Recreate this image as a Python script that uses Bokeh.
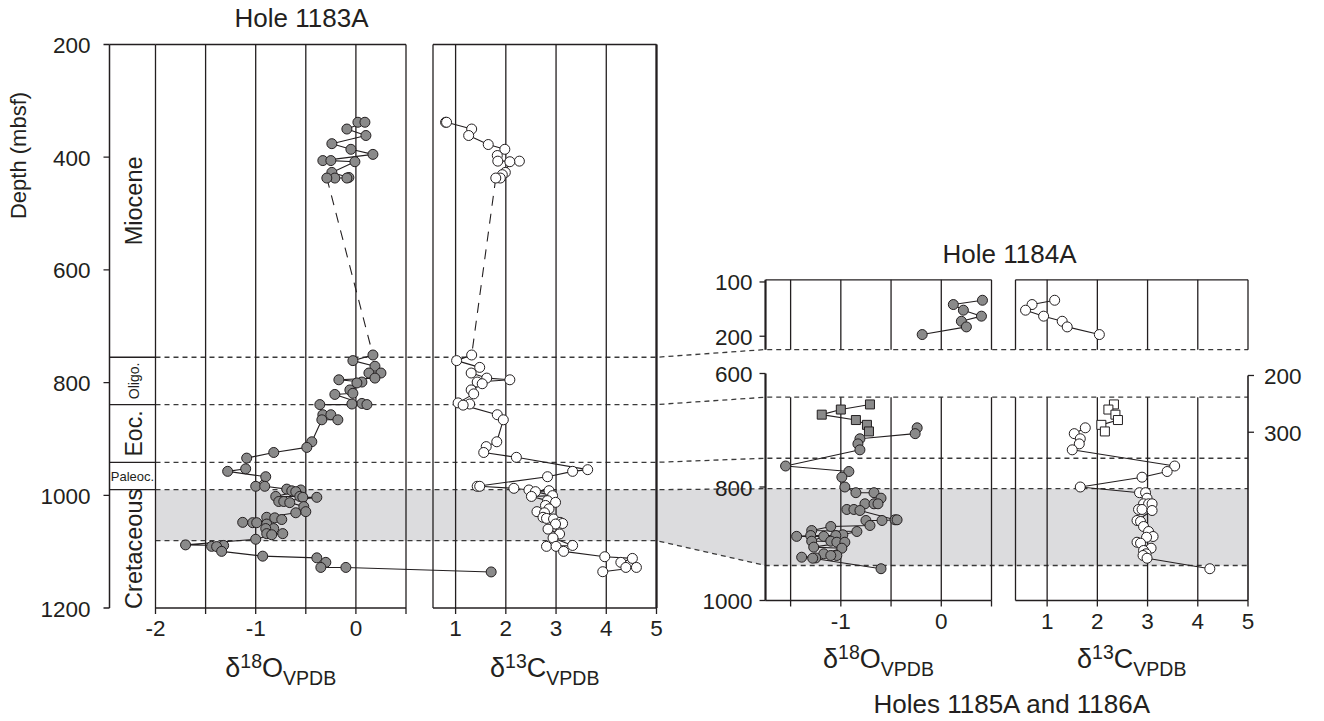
import numpy as np
from bokeh.plotting import figure
from bokeh.models import Range1d
from bokeh.core.properties import value
from bokeh.embed import file_html
from bokeh.resources import INLINE

# ------------------------------------------------------------------ data
# Hole 1183A  d18O (Miocene cluster, then Oligocene - Cretaceous)
D18O_1183_MIO_DEPTH = [338, 338, 350, 361.5, 376, 386, 395, 406, 406, 408, 427, 436, 437, 437, 437]
D18O_1183_MIO = [0.02, 0.09, -0.09, 0.10, -0.24, -0.05, 0.17, -0.33, -0.25, -0.01, -0.24, -0.07, -0.09, -0.21, -0.29]
D18O_1183_DEPTH = [751, 761, 771, 783, 783, 792, 795, 799, 800.6, 813, 819, 821, 837, 838, 839, 839,
                   857, 857, 866, 866, 905, 915, 924, 934, 953, 957.5, 967, 984, 984, 989, 990.5, 992,
                   993.5, 1002, 1002, 1003.6, 1003.6, 1011, 1011, 1013, 1020, 1029, 1031, 1039, 1040,
                   1043, 1048, 1048.6, 1048.6, 1051, 1059, 1059, 1068, 1068, 1070, 1078, 1088, 1089,
                   1090.6, 1091, 1099.5, 1108, 1111, 1119, 1128, 1128, 1136]
D18O_1183 = [0.17, -0.03, 0.19, 0.13, 0.25, 0.19, -0.17, 0.06, 0.01, -0.06, -0.03, -0.21, 0.06, -0.04, 0.11, -0.36,
             -0.33, -0.25, -0.18, -0.34, -0.44, -0.49, -0.82, -1.09, -1.10, -1.28, -0.90, -1.00, -0.91, -0.69, -0.55, -0.64,
             -0.60, -0.80, -0.56, -0.53, -0.39, -0.77, -0.72, -0.66, -0.52, -0.50, -0.60, -0.89, -0.81,
             -0.74, -1.13, -1.03, -0.99, -0.89, -0.82, -0.90, -0.89, -0.73, -0.84, -1.00, -1.70, -1.32,
             -1.44, -1.39, -1.34, -0.93, -0.39, -0.30, -0.35, -0.10, 1.35]

# Hole 1183A  d13C
D13C_1183_MIO_DEPTH = [338, 338, 350, 361.5, 377.5, 386, 397, 407, 407, 408, 427, 431, 437, 437]
D13C_1183_MIO = [0.80, 0.82, 1.32, 1.26, 1.65, 1.98, 1.83, 1.84, 2.27, 2.08, 1.99, 1.93, 1.89, 1.80]
D13C_1183_DEPTH = [751, 761, 773, 783, 792, 795, 799, 802, 813, 820, 836, 838, 840, 857, 866, 905, 913.6,
                   924, 932.6, 954.5, 957.5, 967, 984, 984, 987.6, 990.5, 991.8, 993.5, 1000.6, 1002,
                   1009.5, 1012.5, 1018, 1024, 1029, 1031, 1039, 1041, 1042, 1048, 1050, 1051, 1060,
                   1068.6, 1075.7, 1089, 1090.6, 1090.6, 1099.5, 1109, 1112, 1119, 1128, 1128, 1135.6]
D13C_1183 = [1.32, 1.02, 1.48, 1.31, 1.62, 2.08, 1.43, 1.53, 1.31, 1.36, 1.05, 1.28, 1.15, 1.83, 1.95, 1.82, 1.61,
             1.56, 2.21, 3.63, 3.33, 2.83, 1.43, 1.48, 2.16, 2.46, 2.86, 2.59, 2.93, 2.51,
             2.83, 2.99, 2.79, 2.86, 2.62, 2.77, 2.74, 2.81, 2.95, 3.08, 3.13, 2.99, 2.84,
             3.07, 2.94, 3.33, 2.81, 3.00, 3.15, 3.97, 4.52, 4.29, 4.39, 4.60, 3.93]

# Hole 1184A
DEPTH_1184 = [133.7, 141.6, 152, 163, 172.4, 182.8, 196.9]
D18O_1184 = [0.41, 0.12, 0.22, 0.40, 0.20, 0.25, -0.19]
D13C_1184 = [1.15, 0.70, 0.57, 0.93, 1.30, 1.40, 2.04]

# Hole 1185A (squares, right-hand depth axis)
DEPTH_1185 = [251, 260, 269, 278.5, 287, 298.6]
D18O_1185 = [-0.71, -1.00, -1.19, -0.85, -0.74, -0.72]
D13C_1185 = [2.33, 2.22, 2.36, 2.41, 2.08, 2.15]

# Hole 1186A (circles, left-hand depth axis)
D18O_1186_DEPTH = [695.7, 706, 715, 724, 734.5, 763, 772.7, 782.7, 800, 810, 810, 819.7, 829.6, 829.6, 829.6,
                   839.6, 839.6, 841.4, 857.8, 857.8, 859, 859, 867.8, 869.6, 876.7, 878.4, 884.2, 885.5,
                   885.5, 887, 887, 895.5, 895.5, 897.3, 897.3, 906, 907.8, 917.7, 920.7, 920.7, 923.7,
                   925, 925.5, 944]
D18O_1186 = [-0.24, -0.26, -0.81, -0.83, -0.81, -1.55, -0.92, -0.99, -0.96, -0.85, -0.67, -0.60, -0.76, -0.67, -0.63,
             -0.94, -0.87, -0.81, -0.46, -0.44, -0.59, -0.75, -0.71, -1.10, -1.29, -0.84, -0.98, -1.05,
             -1.30, -1.44, -1.17, -1.29, -1.10, -1.04, -0.96, -1.27, -0.99, -1.17, -1.04, -1.10, -1.39,
             -1.25, -1.28, -0.60]
D13C_1186_DEPTH = [695.7, 706, 715, 724, 734.5, 763, 772.7, 782.7, 800, 810, 810, 819.7, 829.6, 829.6, 829.6,
                   839.6, 839.6, 841.4, 859, 860.8, 869.6, 878.4, 887.2, 888.5, 897.3, 899, 907.8, 911.9,
                   917.7, 920.7, 925.5, 944]
D13C_1186 = [1.76, 1.54, 1.66, 1.64, 1.50, 3.54, 3.39, 2.89, 1.66, 2.84, 2.96, 2.99, 2.92, 3.02, 3.09,
             2.82, 2.89, 3.09, 2.79, 2.86, 2.92, 3.02, 3.11, 2.98, 2.79, 2.86, 3.07, 2.92,
             2.97, 2.91, 2.99, 4.24]

# stratigraphy / correlation
EPOCH_BOUNDS_1183 = [200, 755, 839, 941.5, 990, 1200]
EPOCH_NAMES = ["Miocene", "Oligo.", "Eoc.", "Paleoc.", "Cretaceous"]
LINK_1183 = [755, 839, 941.5, 990, 1080.5]
LINK_1184_BOTTOM = 224.5
LINK_1186 = [641.8, 749.3, 803, 938.3]
BAND_1183 = [990, 1080.5]
BAND_1186 = [803, 938.3]

Y_TICKS_1183 = [200, 400, 600, 800, 1000, 1200]
Y_TICKS_1184 = [100, 200]
Y_TICKS_1186 = [600, 800, 1000]
Y_TICKS_1185 = [200, 300]
O_TICKS_L = [-2, -1.5, -1, -0.5, 0, 0.5]
O_LABELS_L = [-2, -1, 0]
O_TICKS_R = [-1.5, -1, -0.5, 0, 0.5]
O_LABELS_R = [-1, 0]
C_TICKS = [1, 2, 3, 4, 5]

# ------------------------------------------------------------------ figure
W, H = 1320, 719
p = figure(width=W, height=H, x_range=Range1d(0, W), y_range=Range1d(H, 0),
           x_axis_type=None, y_axis_type=None, toolbar_location=None, output_backend="svg",
           min_border=0, outline_line_color=None, background_fill_color="white",
           border_fill_color="white")

FONT = value("Liberation Sans")
INK = "#231f20"
GRAY = "#8a8a8a"
BAND = "#dcdcde"
GW = 1.3
TICK = 6


class Panel:
    def __init__(self, xs, xt, ys, yt):
        self.xs, self.xt, self.ys, self.yt = xs, xt, ys, yt
        self.g = p.subplot(x_source=Range1d(*xs), y_source=Range1d(*ys),
                           x_target=Range1d(*xt), y_target=Range1d(*yt))

    def dx(self, px):
        return px * (self.xs[1] - self.xs[0]) / (self.xt[1] - self.xt[0])

    def dy(self, px):
        return px * (self.ys[1] - self.ys[0]) / (self.yt[1] - self.yt[0])

    def ypix(self, d):
        return self.yt[0] + (d - self.ys[0]) * (self.yt[1] - self.yt[0]) / (self.ys[1] - self.ys[0])


A = Panel((-2, 0.5), (155, 405.5), (200, 1200), (44, 607.5))
B = Panel((0.55, 5.0), (432.5, 656), (200, 1200), (44, 607.5))
COL = Panel((0, 1), (109, 155), (200, 1200), (44, 607.5))
C = Panel((-1.75, 0.5), (765, 991), (96, 225), (279.3, 349.3))
D = Panel((0.37, 5.0), (1015, 1247.5), (96, 225), (279.3, 349.3))
E = Panel((-1.75, 0.5), (765, 991), (600, 1000), (373, 600))
F = Panel((0.37, 5.0), (1015, 1247.5), (600, 1000), (373, 600))
E85 = Panel((-1.75, 0.5), (765, 991), (196.5, 596.5), (373, 600))
F85 = Panel((0.37, 5.0), (1015, 1247.5), (196.5, 596.5), (373, 600))


def seg(pn, x0, y0, x1, y1, width=GW, dash="solid", color=INK):
    pn.g.segment(x0=x0, y0=y0, x1=x1, y1=y1, line_color=color, line_width=width, line_dash=dash)


def txt(pn, x, y, t, size, align="center", baseline="middle", xo=0, yo=0, angle=0):
    pn.g.text(x=x, y=y, text=t, x_offset=xo, y_offset=yo, angle=angle, text_font=FONT,
              text_font_size=f"{size}px", text_align=align, text_baseline=baseline, text_color=INK)


# ---- gray band (Cretaceous interval) incl. correlation trapezoid
bx = [A.xt[0], B.xt[1], E.xt[0], F.xt[1], F.xt[1], E.xt[0], B.xt[1], A.xt[0]]
by = [A.ypix(BAND_1183[0]), A.ypix(BAND_1183[0]), E.ypix(BAND_1186[0]), E.ypix(BAND_1186[0]),
      E.ypix(BAND_1186[1]), E.ypix(BAND_1186[1]), A.ypix(BAND_1183[1]), A.ypix(BAND_1183[1])]
p.patch(bx, by, fill_color=BAND, line_color=None)

# ---- correlation dashed lines
right_y = [C.ypix(LINK_1184_BOTTOM)] + [E.ypix(d) for d in LINK_1186]
xs_l, ys_l = [], []
for dl, yr in zip(LINK_1183, right_y):
    yl = A.ypix(dl)
    xs_l.append([A.xt[0], B.xt[1], E.xt[0], F.xt[1]])
    ys_l.append([yl, yl, yr, yr])
p.multi_line(xs_l, ys_l, line_color="#3a3a3a", line_width=1.3, line_dash="5 4")

# ---- Hole 1183A frames
n = len(O_TICKS_L)
seg(A, O_TICKS_L, [200] * n, O_TICKS_L, [1200] * n)
seg(A, [-2, -2], [200, 1200], [0.5, 0.5], [200, 1200])
seg(A, O_TICKS_L, [1200] * n, O_TICKS_L, [1200 + A.dy(TICK)] * n)
txt(A, O_LABELS_L, [1200] * 3, [str(v) for v in O_LABELS_L], 22.5, baseline="top", yo=13)

bt = [B.xs[0]] + C_TICKS
seg(B, bt, [200] * len(bt), bt, [1200] * len(bt))
seg(B, [5], [200], [5], [1200], width=2.2)
seg(B, [B.xs[0], B.xs[0]], [200, 1200], [5, 5], [200, 1200])
seg(B, C_TICKS, [1200] * 5, C_TICKS, [1200 + B.dy(TICK)] * 5)
txt(B, C_TICKS, [1200] * 5, [str(v) for v in C_TICKS], 22.5, baseline="top", yo=13)

# epoch column + depth axis
seg(COL, [0], [200], [0], [1200], width=1.5)
seg(COL, [0] * 4, EPOCH_BOUNDS_1183[1:-1], [1] * 4, EPOCH_BOUNDS_1183[1:-1])
seg(COL, [0], [200], [1], [200])
seg(COL, [0] * 6, Y_TICKS_1183, [-COL.dx(TICK)] * 6, Y_TICKS_1183)
txt(COL, [0] * 6, Y_TICKS_1183, [str(v) for v in Y_TICKS_1183], 22.5, align="right", xo=-19, yo=1)
mids = [(a + b) / 2 for a, b in zip(EPOCH_BOUNDS_1183[:-1], EPOCH_BOUNDS_1183[1:])]
sizes = [23.5, 14, 23, 13, 23.5]
for name, m, s in zip(EPOCH_NAMES, mids, sizes):
    ang = 0 if name == "Paleoc." else np.pi / 2
    txt(COL, [0.5], [m], [name], s, angle=ang, xo=(1 if ang else 0))

# data 1183A d18O
A.g.line(D18O_1183_MIO, D18O_1183_MIO_DEPTH, line_color=INK, line_width=1.1)
A.g.line([D18O_1183_MIO[-1], D18O_1183[0]], [D18O_1183_MIO_DEPTH[-1], D18O_1183_DEPTH[0]],
         line_color=INK, line_width=1.1, line_dash="10 8")
A.g.line(D18O_1183, D18O_1183_DEPTH, line_color=INK, line_width=1.1)
A.g.scatter(D18O_1183_MIO + D18O_1183, D18O_1183_MIO_DEPTH + D18O_1183_DEPTH, size=10,
            fill_color=GRAY, line_color=INK, line_width=1)
# data 1183A d13C
B.g.line(D13C_1183_MIO, D13C_1183_MIO_DEPTH, line_color=INK, line_width=1.1)
B.g.line([D13C_1183_MIO[-1], D13C_1183[0]], [D13C_1183_MIO_DEPTH[-1], D13C_1183_DEPTH[0]],
         line_color=INK, line_width=1.1, line_dash="10 8")
B.g.line(D13C_1183, D13C_1183_DEPTH, line_color=INK, line_width=1.1)
B.g.scatter(D13C_1183_MIO + D13C_1183, D13C_1183_MIO_DEPTH + D13C_1183_DEPTH, size=10,
            fill_color="white", line_color=INK, line_width=1)

# ---- Hole 1184A frames
m = len(O_TICKS_R)
seg(C, O_TICKS_R, [96] * m, O_TICKS_R, [225] * m)
seg(C, [-1.75], [96], [0.5], [96])
seg(C, [-1.75], [96], [-1.75], [225], width=2.2)
seg(C, [-1.75] * 2, Y_TICKS_1184, [-1.75 - C.dx(TICK)] * 2, Y_TICKS_1184)
txt(C, [-1.75] * 2, Y_TICKS_1184, [str(v) for v in Y_TICKS_1184], 22.5, align="right", xo=-13, yo=1)
dt = [D.xs[0]] + C_TICKS
seg(D, dt, [96] * len(dt), dt, [225] * len(dt))
seg(D, [D.xs[0]], [96], [5], [96])
C.g.line(D18O_1184, DEPTH_1184, line_color=INK, line_width=1.1)
C.g.scatter(D18O_1184, DEPTH_1184, size=10, fill_color=GRAY, line_color=INK, line_width=1)
D.g.line(D13C_1184, DEPTH_1184, line_color=INK, line_width=1.1)
D.g.scatter(D13C_1184, DEPTH_1184, size=10, fill_color="white", line_color=INK, line_width=1)

# ---- Holes 1185A / 1186A frames
top = LINK_1186[0]
seg(E, O_TICKS_R, [top] * m, O_TICKS_R, [1000] * m)
seg(E, [-1.75], [600], [-1.75], [1000], width=2.2)
seg(E, [-1.75] * 3, Y_TICKS_1186, [-1.75 - E.dx(TICK)] * 3, Y_TICKS_1186)
seg(E, [-1.75], [1000], [0.5], [1000])
seg(E, O_TICKS_R, [1000] * m, O_TICKS_R, [1000 + E.dy(TICK)] * m)
txt(E, [-1.75] * 3, Y_TICKS_1186, [str(v) for v in Y_TICKS_1186], 22.5, align="right", xo=-13, yo=1)
txt(E, O_LABELS_R, [1000] * 2, [str(v) for v in O_LABELS_R], 22.5, baseline="top", yo=13)

ft = [F.xs[0]] + C_TICKS[:-1]
seg(F, ft, [top] * len(ft), ft, [1000] * len(ft))
seg(F, [F.xs[0]], [1000], [5], [1000])
seg(F, C_TICKS, [1000] * 5, C_TICKS, [1000 + F.dy(TICK)] * 5)
txt(F, C_TICKS, [1000] * 5, [str(v) for v in C_TICKS], 22.5, baseline="top", yo=13)
seg(F85, [5], [Y_TICKS_1185[0]], [5], [F85.ys[1]], width=1.6)
seg(F85, [5] * 2, Y_TICKS_1185, [5 + F85.dx(TICK)] * 2, Y_TICKS_1185)
txt(F85, [5] * 2, Y_TICKS_1185, [str(v) for v in Y_TICKS_1185], 22.5, align="left", xo=16, yo=1)

E.g.line(D18O_1186, D18O_1186_DEPTH, line_color=INK, line_width=1.1)
E.g.scatter(D18O_1186, D18O_1186_DEPTH, size=10, fill_color=GRAY, line_color=INK, line_width=1)
E85.g.line(D18O_1185, DEPTH_1185, line_color=INK, line_width=1.1)
E85.g.scatter(D18O_1185, DEPTH_1185, marker="square", size=9, fill_color=GRAY, line_color=INK, line_width=1)
F.g.line(D13C_1186, D13C_1186_DEPTH, line_color=INK, line_width=1.1)
F.g.scatter(D13C_1186, D13C_1186_DEPTH, size=10, fill_color="white", line_color=INK, line_width=1)
F85.g.line(D13C_1185, DEPTH_1185, line_color=INK, line_width=1.1)
F85.g.scatter(D13C_1185, DEPTH_1185, marker="square", size=9, fill_color="white", line_color=INK, line_width=1)


# ---- isotope axis labels (delta, superscript mass, element, subscript VPDB)
def iso_label(pn, yv, center_off, sup, main, main_w):
    Fs, fs = 27, 19.5
    parts = [("\u03b4", Fs, 0, 0.556 * Fs), (sup, fs, -7, 0.556 * fs * len(sup)),
             (main, Fs, 0, main_w * Fs), ("VPDB", fs, 10, 2.723 * fs)]
    total = sum(w for _, _, _, w in parts)
    xc = (pn.xs[0] + pn.xs[1]) / 2
    xo = -total / 2
    for t, s, dy, w in parts:
        txt(pn, [xc], [yv], [t], s, align="left", baseline="middle", xo=xo, yo=center_off + dy)
        xo += w


iso_label(A, 1200, 60, "18", "O", 0.778)
iso_label(B, 1200, 60, "13", "C", 0.722)
iso_label(E, 1000, 58, "18", "O", 0.778)
iso_label(F, 1000, 58, "13", "C", 0.722)

# ---- titles
def title(x, y, t, size=26, angle=0):
    p.text(x=[x], y=[y], text=[t], angle=angle, text_font=FONT, text_font_size=f"{size}px",
           text_align="center", text_baseline="middle", text_color=INK)


title(301, 17, "Hole 1183A")
title(1009, 253.5, "Hole 1184A")
title(1012, 703.5, "Holes 1185A and 1186A")
title(18, 155, "Depth (mbsf)", size=22, angle=np.pi / 2)

open("out.html", "w").write(file_html(p, INLINE))
